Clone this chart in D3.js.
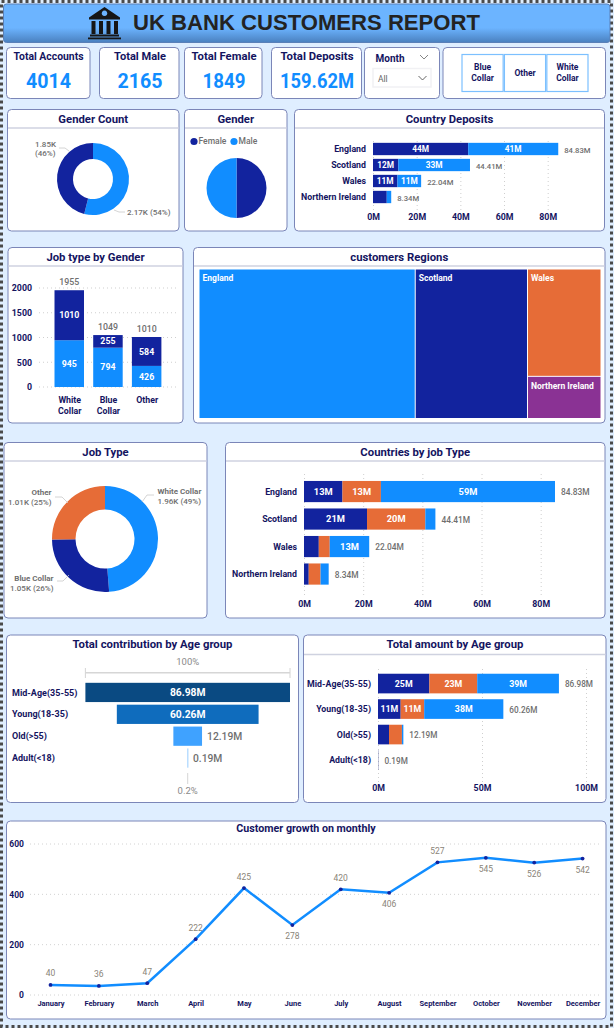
<!DOCTYPE html>
<html>
<head>
<meta charset="utf-8">
<script src="https://cdnjs.cloudflare.com/ajax/libs/d3/7.8.5/d3.min.js"></script>
<style>
    html, body { margin: 0; padding: 0; background: #dfeeff; }
    svg { display: block; }
    text { font-family: Roboto, "Noto Sans", sans-serif; }
</style>
</head>
<body>
<div id="report"></div>
<script>
// data
var kpiNames = ["Total Accounts", "Total Male", "Total Female", "Total Deposits"];
var kpiValues = ["4014", "2165", "1849", "159.62M"];
var jobButtons = [["Blue", "Collar"], ["Other"], ["White", "Collar"]];

var genderNames = ["Male", "Female"];
var genderCounts = [2165, 1849];
var genderPieValues = [50, 50];

var countries = ["England", "Scotland", "Wales", "Northern Ireland"];
var depositFemale = [43.6, 11.6, 11.2, 6.3];
var depositMale = [41.23, 32.81, 10.84, 2.04];
var depositTotals = [84.83, 44.41, 22.04, 8.34];

var jobTypes = ["White Collar", "Blue Collar", "Other"];
var jobMale = [945, 794, 426];
var jobFemale = [1010, 255, 584];
var jobTotals = [1955, 1049, 1010];

var regionCustomers = [2159, 1121, 527, 207];

var jobDonutNames = ["White Collar", "Blue Collar", "Other"];
var jobDonutValues = [1960, 1050, 1010];

var countryBlue = [13, 21.3, 5, 1.6];
var countryOther = [13, 19.7, 3.7, 4];
var countryWhite = [58.83, 3.41, 13.34, 2.74];

var ageGroups = ["Mid-Age(35-55)", "Young(18-35)", "Old(>55)", "Adult(<18)"];
var ageTotals = [86.98, 60.26, 12.19, 0.19];
var ageBlue = [24.7, 10.9, 5.3, 0.07];
var ageOther = [23, 11.3, 6.2, 0.06];
var ageWhite = [39.28, 38.06, 0.69, 0.06];

var months = ["January", "February", "March", "April", "May", "June", "July", "August", "September", "October", "November", "December"];
var monthCustomers = [40, 36, 47, 222, 425, 278, 420, 406, 527, 545, 526, 542];
var monthsLabelBelow = ["June", "August", "October", "November", "December"];

var darkBlue = "#12239e", lightBlue = "#118dff", orange = "#e66c37", purple = "#8a3294";
var navy = "#14145f", grey = "#6f6f6f";

var svg = d3.select("#report").append("svg")
    .attr("width", 614)
    .attr("height", 1028);

var defs = svg.append("defs");
var headGrad = defs.append("linearGradient")
    .attr("id", "headGrad")
    .attr("x1", 0).attr("y1", 0).attr("x2", 0).attr("y2", 1);
headGrad.append("stop").attr("offset", "0%").attr("stop-color", "#6cb4ff");
headGrad.append("stop").attr("offset", "62%").attr("stop-color", "#6cb4ff");
headGrad.append("stop").attr("offset", "100%").attr("stop-color", "#4a80bf");

// page background and the dotted frame
svg.append("rect")
    .attr("width", 614).attr("height", 1028)
    .attr("fill", "#dfeeff");
svg.append("rect")
    .attr("x", 1.5).attr("y", 1.5)
    .attr("width", 610).attr("height", 1025)
    .attr("fill", "none")
    .attr("stroke", "#4a4a4a")
    .attr("stroke-width", 3)
    .attr("stroke-dasharray", "3,3");

drawHeader();
drawKpis();
drawSlicers();
drawGenderCount();
drawGenderPie();
drawCountryDeposits();
drawJobByGender();
drawRegions();
drawJobDonut();
drawCountriesByJob();
drawContribution();
drawAmountByAge();
drawMonthly();


function txt(x, y, s, size, color, weight, anchor) {
    return svg.append("text")
        .attr("x", x)
        .attr("y", y)
        .attr("dy", "0.35em")
        .attr("font-size", size)
        .attr("fill", color)
        .attr("font-weight", weight || 400)
        .attr("text-anchor", anchor || "middle")
        .text(s);
}

function card(x0, y0, x1, y1, title, dividerY) {
    svg.append("rect")
        .attr("x", x0).attr("y", y0)
        .attr("width", x1 - x0).attr("height", y1 - y0)
        .attr("rx", 4)
        .attr("fill", "#fff")
        .attr("stroke", "#7b86b8")
        .attr("stroke-width", 1);
    if (dividerY) {
        svg.append("line")
            .attr("x1", x0 + 0.5).attr("x2", x1 - 0.5)
            .attr("y1", dividerY).attr("y2", dividerY)
            .attr("stroke", "#cfd2e0")
            .attr("stroke-width", 1.5);
    }
    if (title) {
        txt((x0 + x1) / 2, y0 + 9.5, title, 11.3, navy, 700);
    }
}

function drawHeader() {
    svg.append("rect")
        .attr("x", 3.5).attr("y", 4)
        .attr("width", 606.5).attr("height", 38.5)
        .attr("rx", 3)
        .attr("fill", "url(#headGrad)")
        .attr("stroke", "#5a80b8");

    // bank icon
    var icon = svg.append("g").attr("transform", "translate(88,7)").attr("fill", "#161616");
    icon.append("path")
        .attr("fill-rule", "evenodd")
        .attr("d", "M16.5 0 L32 10.5 L32 12.5 L1 12.5 L1 10.5 Z M16.5 3.5 a2.8 2.8 0 1 0 0.01 0 Z");
    [3.5, 11, 18.5, 26].forEach(function (d) {
        icon.append("rect").attr("x", d).attr("y", 14).attr("width", 4).attr("height", 13);
    });
    icon.append("rect").attr("x", 2).attr("y", 27.5).attr("width", 29).attr("height", 2);
    icon.append("rect").attr("x", 0).attr("y", 30.5).attr("width", 33).attr("height", 1.8);

    svg.append("text")
        .attr("x", 133).attr("y", 30)
        .attr("font-size", 22.1)
        .attr("font-weight", 700)
        .attr("fill", "#232323")
        .style("font-family", "'Liberation Sans', Arial, sans-serif")
        .text("UK BANK CUSTOMERS REPORT");
}

function drawKpis() {
    var edges = [[6.5, 90], [99.5, 179], [184.5, 262], [271.5, 361.5]];
    var centers = [48.5, 140, 224, 317];
    var titleWidths = [70, 52, 65, 73];
    var valueWidths = [45, 45, 43, 74];
    kpiNames.forEach(function (name, i) {
        card(edges[i][0], 47.5, edges[i][1], 98.5);
        txt(centers[i], 55.5, name, 11.5, navy, 700)
            .attr("textLength", titleWidths[i])
            .attr("lengthAdjust", "spacingAndGlyphs");
        txt(centers[i], 81, kpiValues[i], 21, lightBlue, 700)
            .attr("textLength", valueWidths[i])
            .attr("lengthAdjust", "spacingAndGlyphs");
    });
}

function chevron(cx, cy, color) {
    svg.append("path")
        .attr("d", "M" + (cx - 4) + " " + (cy - 2) + " L" + cx + " " + (cy + 2) + " L" + (cx + 4) + " " + (cy - 2))
        .attr("fill", "none")
        .attr("stroke", color)
        .attr("stroke-width", 0.9);
}

function drawSlicers() {
    card(364.5, 47.5, 439.5, 98.5);
    txt(375.5, 58.5, "Month", 10, navy, 700, "start");
    chevron(424, 57, "#777");
    svg.append("rect")
        .attr("x", 373).attr("y", 68.5)
        .attr("width", 58).attr("height", 18.5)
        .attr("fill", "#fff")
        .attr("stroke", "#f1f1f4")
        .attr("stroke-width", 1.5);
    txt(378, 79, "All", 8.5, "#666", 400, "start");
    chevron(422.5, 78, "#555");

    card(443, 47.5, 605.5, 98.5);
    var slicerX = d3.scaleBand()
        .domain(jobButtons.map(function (d) { return d.join(" "); }))
        .range([462, 588])
        .paddingInner(0.03);
    jobButtons.forEach(function (lines) {
        var key = lines.join(" ");
        svg.append("rect")
            .attr("x", slicerX(key)).attr("y", 54.5)
            .attr("width", slicerX.bandwidth()).attr("height", 37)
            .attr("fill", "#fff")
            .attr("stroke", "#7cc0ff")
            .attr("stroke-width", 1.2);
        lines.forEach(function (line, j) {
            var mid = 73 + (j - (lines.length - 1) / 2) * 11;
            txt(slicerX(key) + slicerX.bandwidth() / 2, mid, line, 8.5, navy, 700);
        });
    });
}

function drawDonut(cx, cy, inner, outer, values, colors) {
    var arcs = d3.pie().sort(null)(values);
    var arc = d3.arc().innerRadius(inner).outerRadius(outer);
    svg.append("g")
        .attr("transform", "translate(" + cx + "," + cy + ")")
        .selectAll("path")
        .data(arcs)
        .enter()
        .append("path")
        .attr("d", arc)
        .attr("fill", function (d, i) { return colors[i]; });
}

function leader(points) {
    svg.append("path")
        .attr("d", d3.line()(points))
        .attr("fill", "none")
        .attr("stroke", "#c9c9c9")
        .attr("stroke-width", 0.8);
}

function drawGenderCount() {
    card(7.5, 109.5, 179, 231, "Gender Count", 128);
    drawDonut(93, 179, 20, 36, genderCounts, [lightBlue, darkBlue]);

    leader([[59, 148], [65, 148], [69, 151]]);
    txt(56, 144.5, "1.85K", 8, grey, 500, "end");
    txt(55.5, 153.5, "(46%)", 8, grey, 500, "end");
    leader([[114, 210], [119, 212], [125, 212]]);
    txt(127, 212.5, "2.17K (54%)", 8, grey, 500, "start");
}

function drawGenderPie() {
    card(184.5, 109.5, 287, 231, "Gender", 128);
    drawDonut(236.5, 188, 0, 30, genderPieValues, [darkBlue, lightBlue]);

    svg.append("circle").attr("cx", 194).attr("cy", 141.5).attr("r", 3.6).attr("fill", darkBlue);
    txt(198.5, 141.5, "Female", 8.5, grey, 500, "start");
    svg.append("circle").attr("cx", 234).attr("cy", 141.5).attr("r", 3.6).attr("fill", lightBlue);
    txt(238.5, 141.5, "Male", 8.5, grey, 500, "start");
}

// horizontal stacked bars shared by the three bar cards
function stackedBars(opt) {
    var x = d3.scaleLinear().domain(opt.domain).range(opt.xRange);
    var y = d3.scaleBand()
        .domain(opt.cats)
        .range(opt.yRange)
        .paddingInner(0.23)
        .paddingOuter(0.115);

    var axis = svg.append("g")
        .attr("transform", "translate(0," + opt.gridBottom + ")")
        .call(d3.axisBottom(x)
            .tickValues(opt.ticks)
            .tickSize(opt.gridBottom - opt.gridTop)
            .tickFormat(function (d) { return d + "M"; }));
    axis.select(".domain").remove();
    axis.selectAll("line")
        .attr("y1", 0)
        .attr("y2", -(opt.gridBottom - opt.gridTop))
        .attr("stroke", "#cfcfcf")
        .attr("stroke-dasharray", "1,3");
    axis.selectAll("text")
        .attr("y", opt.tickY - opt.gridBottom)
        .attr("dy", "0.35em")
        .attr("font-size", 8.8)
        .attr("font-weight", 700)
        .attr("fill", navy)
        .style("font-family", "Roboto, sans-serif");

    var rows = opt.cats.map(function (c, i) {
        var row = {cat: c};
        opt.series.forEach(function (s, j) { row["s" + j] = s[i]; });
        return row;
    });
    var keys = opt.series.map(function (s, j) { return "s" + j; });
    var layers = d3.stack().keys(keys)(rows);

    layers.forEach(function (layer, j) {
        svg.append("g").selectAll("rect")
            .data(layer)
            .enter()
            .append("rect")
            .attr("x", function (d) { return x(d[0]); })
            .attr("y", function (d) { return y(d.data.cat); })
            .attr("width", function (d) { return x(d[1]) - x(d[0]); })
            .attr("height", y.bandwidth())
            .attr("fill", opt.colors[j]);

        layer.forEach(function (d) {
            var val = d[1] - d[0];
            if (val >= opt.minLabel) {
                txt((x(d[0]) + x(d[1])) / 2, y(d.data.cat) + y.bandwidth() / 2, Math.round(val) + "M", opt.barFont, "#fff", 700);
            }
        });
    });

    opt.cats.forEach(function (c, i) {
        txt(opt.catX, y(c) + y.bandwidth() / 2, c, 8.8, navy, 700, "end");
        txt(x(opt.totals[i]) + 6, y(c) + y.bandwidth() / 2 + 1, opt.totals[i].toFixed(2) + "M", opt.totalFont, grey, 500, "start");
    });
}

function drawCountryDeposits() {
    card(294.5, 109.5, 604.5, 231, "Country Deposits", 128);
    stackedBars({
        cats: countries,
        series: [depositFemale, depositMale],
        totals: depositTotals,
        colors: [darkBlue, lightBlue],
        domain: [0, 80],
        ticks: [0, 20, 40, 60, 80],
        xRange: [373, 547.7],
        yRange: [141, 205],
        gridTop: 138,
        gridBottom: 210,
        tickY: 217,
        catX: 366,
        minLabel: 10,
        barFont: 8.3,
        totalFont: 7.7
    });
}

function drawJobByGender() {
    card(8, 247.5, 183, 423, "Job type by Gender", 266);

    var x = d3.scaleBand()
        .domain(jobTypes)
        .range([49.9, 166])
        .paddingInner(0.238)
        .paddingOuter(0.119);
    var y = d3.scaleLinear().domain([0, 2000]).range([387, 288]);

    var axis = svg.append("g")
        .attr("transform", "translate(32,0)")
        .call(d3.axisLeft(y)
            .tickValues([0, 500, 1000, 1500, 2000])
            .tickFormat(d3.format("d"))
            .tickSize(0)
            .tickPadding(0));
    axis.select(".domain").remove();
    axis.selectAll("text")
        .attr("font-size", 8.8)
        .attr("font-weight", 700)
        .attr("fill", navy)
        .style("font-family", "Roboto, sans-serif");

    svg.append("g").selectAll("line")
        .data(y.ticks(4))
        .enter()
        .append("line")
        .attr("x1", 39).attr("x2", 178)
        .attr("y1", function (d) { return y(d); })
        .attr("y2", function (d) { return y(d); })
        .attr("stroke", "#cfcfcf")
        .attr("stroke-dasharray", "1,3");

    var rows = jobTypes.map(function (c, i) { return {cat: c, male: jobMale[i], female: jobFemale[i]}; });
    var layers = d3.stack().keys(["male", "female"])(rows);
    var cols = [lightBlue, darkBlue];
    layers.forEach(function (layer, j) {
        svg.append("g").selectAll("rect")
            .data(layer)
            .enter()
            .append("rect")
            .attr("x", function (d) { return x(d.data.cat); })
            .attr("y", function (d) { return y(d[1]); })
            .attr("width", x.bandwidth())
            .attr("height", function (d) { return y(d[0]) - y(d[1]); })
            .attr("fill", cols[j]);
        layer.forEach(function (d) {
            txt(x(d.data.cat) + x.bandwidth() / 2, (y(d[0]) + y(d[1])) / 2, d[1] - d[0], 8.8, "#fff", 700);
        });
    });

    jobTypes.forEach(function (c, i) {
        var cx = x(c) + x.bandwidth() / 2 + 0.5;
        txt(cx - 0.5, y(jobTotals[i]) - 8, jobTotals[i], 8.8, grey, 500);
        c.split(" ").forEach(function (line, j) {
            txt(cx, 400 + j * 11, line, 8.8, navy, 700);
        });
    });
}

function drawRegions() {
    card(193.5, 247.5, 605, 423, "customers Regions", 266);

    var root = d3.hierarchy({
        children: countries.map(function (c, i) { return {name: c, value: regionCustomers[i]}; })
    }).sum(function (d) { return d.value; });

    d3.treemap()
        .tile(d3.treemapSquarify.ratio(1))
        .size([401, 148.5])
        .paddingInner(1)(root);

    var cols = [lightBlue, darkBlue, orange, purple];
    var cells = svg.append("g")
        .attr("transform", "translate(199.5,269.5)")
        .selectAll("g")
        .data(root.leaves())
        .enter()
        .append("g")
        .attr("transform", function (d) { return "translate(" + d.x0 + "," + d.y0 + ")"; });
    cells.append("rect")
        .attr("width", function (d) { return d.x1 - d.x0; })
        .attr("height", function (d) { return d.y1 - d.y0; })
        .attr("fill", function (d, i) { return cols[i]; });
    cells.append("text")
        .attr("x", 3)
        .attr("y", 9)
        .attr("dy", "0.35em")
        .attr("font-size", 8.5)
        .attr("font-weight", 700)
        .attr("fill", "#fff")
        .text(function (d) { return d.data.name; });
}

function drawJobDonut() {
    card(4, 442.5, 207, 618, "Job Type", 461);
    drawDonut(105, 539, 29.5, 53, jobDonutValues, [lightBlue, darkBlue, orange]);

    leader([[142, 502], [147, 495], [154, 495]]);
    txt(157.5, 491, jobDonutNames[0], 8, grey, 700, "start");
    txt(157.5, 501.5, "1.96K (49%)", 8, grey, 500, "start");

    leader([[55, 497], [62, 497], [68, 503]]);
    txt(51.5, 492, jobDonutNames[2], 8, grey, 700, "end");
    txt(51.5, 502, "1.01K (25%)", 8, grey, 500, "end");

    leader([[57, 581], [63, 581], [69, 575]]);
    txt(53.5, 578, jobDonutNames[1], 8, grey, 700, "end");
    txt(53.5, 588, "1.05K (26%)", 8, grey, 500, "end");
}

function drawCountriesByJob() {
    card(225.5, 442.5, 605, 618, "Countries by job Type", 461);
    stackedBars({
        cats: countries,
        series: [countryBlue, countryOther, countryWhite],
        totals: depositTotals,
        colors: [darkBlue, orange, lightBlue],
        domain: [0, 80],
        ticks: [0, 20, 40, 60, 80],
        xRange: [304, 540.7],
        yRange: [477.8, 587.8],
        gridTop: 472,
        gridBottom: 595,
        tickY: 604,
        catX: 297,
        minLabel: 10,
        barFont: 9.3,
        totalFont: 8.4
    });
}

function drawContribution() {
    card(6.5, 635, 298.5, 802.5);
    txt(152.5, 644.5, "Total contribution by Age group", 11.3, navy, 700);

    var w = d3.scaleLinear().domain([0, ageTotals[0]]).range([0, 204.6]);
    var y = d3.scaleBand()
        .domain(ageGroups)
        .range([681.5, 769])
        .paddingInner(0.12)
        .paddingOuter(0.06);
    var cx = w.range()[1] / 2 + 85.4;
    var cols = ["#0a4a82", "#0f6cbd", "#3fa2ff", "#7fc0ff"];

    svg.append("g").selectAll("rect")
        .data(ageTotals)
        .enter()
        .append("rect")
        .attr("x", function (d) { return cx - w(d) / 2; })
        .attr("y", function (d, i) { return y(ageGroups[i]); })
        .attr("width", function (d) { return Math.max(w(d), 0.8); })
        .attr("height", y.bandwidth())
        .attr("fill", function (d, i) { return cols[i]; });

    ageGroups.forEach(function (g, i) {
        var mid = y(g) + y.bandwidth() / 2;
        txt(12, mid, g, 9, navy, 700, "start");
        if (i < 2) {
            txt(cx, mid, ageTotals[i].toFixed(2) + "M", 10.3, "#fff", 700);
        } else {
            txt(cx + w(ageTotals[i]) / 2 + 5, mid, ageTotals[i].toFixed(2) + "M", 10.3, grey, 500, "start");
        }
    });

    // top bracket and bottom stub of the funnel
    var x0 = cx - w.range()[1] / 2, x1 = cx + w.range()[1] / 2;
    leader([[x0, 668], [x0, 678]]);
    leader([[x1, 668], [x1, 678]]);
    svg.append("line")
        .attr("x1", x0).attr("x2", x1)
        .attr("y1", 672.7).attr("y2", 672.7)
        .attr("stroke", "#d6d6d6")
        .attr("stroke-width", 1.4);
    txt(cx, 661.5, "100%", 9.5, "#8a8a8a", 400);
    leader([[cx, 773], [cx, 784]]);
    txt(cx, 790.5, "0.2%", 9.5, "#8a8a8a", 400);
}

function drawAmountByAge() {
    card(303.5, 635, 606, 802.5, null, 654.5);
    txt(455, 644.5, "Total amount by Age group", 11.3, navy, 700);
    stackedBars({
        cats: ageGroups,
        series: [ageBlue, ageOther, ageWhite],
        totals: ageTotals,
        colors: [darkBlue, orange, lightBlue],
        domain: [0, 100],
        ticks: [0, 50, 100],
        xRange: [378, 586],
        yRange: [670.8, 772.8],
        gridTop: 666,
        gridBottom: 782,
        tickY: 788,
        catX: 371,
        minLabel: 10,
        barFont: 8.8,
        totalFont: 8.2
    });
}

function drawMonthly() {
    card(6.5, 821, 606, 1019);
    txt(306, 828.5, "Customer growth on monthly", 10.7, navy, 700);

    var x = d3.scalePoint().domain(months).range([50.5, 582.6]);
    var y = d3.scaleLinear().domain([0, 600]).range([995, 844]);

    var yAxis = svg.append("g")
        .attr("transform", "translate(24,0)")
        .call(d3.axisLeft(y).tickValues([0, 200, 400, 600]).tickSize(0).tickPadding(0));
    yAxis.select(".domain").remove();
    yAxis.selectAll("text")
        .attr("font-size", 8.5)
        .attr("font-weight", 700)
        .attr("fill", navy)
        .style("font-family", "Roboto, sans-serif");

    svg.append("g").selectAll("line")
        .data([0, 200, 400, 600])
        .enter()
        .append("line")
        .attr("x1", 30).attr("x2", 601)
        .attr("y1", function (d) { return y(d); })
        .attr("y2", function (d) { return y(d); })
        .attr("stroke", "#d2d2d2")
        .attr("stroke-dasharray", "1,3");

    var xAxis = svg.append("g")
        .attr("transform", "translate(0,1003)")
        .call(d3.axisBottom(x).tickSize(0).tickPadding(0));
    xAxis.select(".domain").remove();
    xAxis.selectAll("text")
        .attr("y", 0)
        .attr("dy", "0.35em")
        .attr("font-size", 7.5)
        .attr("font-weight", 700)
        .attr("fill", navy)
        .style("font-family", "Roboto, sans-serif");

    var line = d3.line()
        .x(function (d, i) { return x(months[i]); })
        .y(function (d) { return y(d); });
    svg.append("path")
        .datum(monthCustomers)
        .attr("d", line)
        .attr("fill", "none")
        .attr("stroke", lightBlue)
        .attr("stroke-width", 2.5);

    svg.append("g").selectAll("circle")
        .data(monthCustomers)
        .enter()
        .append("circle")
        .attr("cx", function (d, i) { return x(months[i]); })
        .attr("cy", function (d) { return y(d); })
        .attr("r", 1.9)
        .attr("fill", darkBlue);

    monthCustomers.forEach(function (d, i) {
        var below = monthsLabelBelow.indexOf(months[i]) >= 0;
        txt(x(months[i]), y(d) + (below ? 11 : -11.5), d, 8.5, "#8a8478", 400);
    });
}
</script>
</body>
</html>
